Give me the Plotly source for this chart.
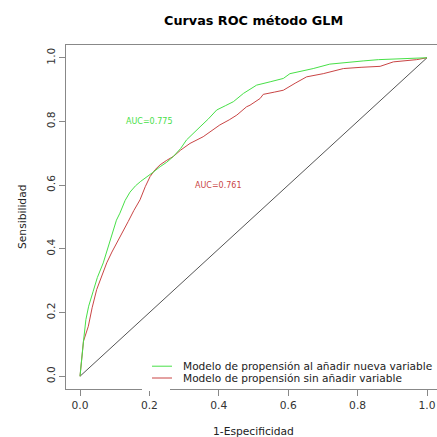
import plotly.graph_objects as go

# ---- data ----
fpr_new = [0, 0.005, 0.01, 0.017, 0.025, 0.038, 0.05, 0.067, 0.078, 0.086, 0.096, 0.105, 0.115,
           0.13, 0.144, 0.16, 0.175, 0.192, 0.21, 0.231, 0.25, 0.269, 0.29, 0.307, 0.325,
           0.346, 0.37, 0.394, 0.42, 0.442, 0.471, 0.509, 0.55, 0.586, 0.605, 0.64, 0.672,
           0.72, 0.77, 0.816, 0.86, 0.913, 0.96, 1.0]
tpr_new = [0, 0.06, 0.11, 0.178, 0.22, 0.267, 0.31, 0.356, 0.395, 0.429, 0.46, 0.49, 0.512,
           0.552, 0.578, 0.598, 0.612, 0.627, 0.64, 0.658, 0.672, 0.69, 0.715, 0.742, 0.762,
           0.783, 0.808, 0.836, 0.85, 0.862, 0.888, 0.914, 0.925, 0.935, 0.95, 0.958, 0.966,
           0.98, 0.986, 0.99, 0.994, 0.997, 0.999, 1.0]

fpr_old = [0, 0.005, 0.01, 0.024, 0.035, 0.048, 0.062, 0.077, 0.092, 0.11, 0.125, 0.139, 0.155,
           0.173, 0.188, 0.202, 0.216, 0.231, 0.25, 0.269, 0.29, 0.317, 0.355, 0.38, 0.403,
           0.43, 0.452, 0.48, 0.49, 0.519, 0.528, 0.56, 0.586, 0.62, 0.653, 0.701, 0.759,
           0.81, 0.865, 0.903, 0.97, 1.0]
tpr_old = [0, 0.06, 0.11, 0.157, 0.215, 0.272, 0.315, 0.356, 0.39, 0.425, 0.455, 0.486, 0.52,
           0.554, 0.595, 0.627, 0.648, 0.664, 0.678, 0.69, 0.71, 0.731, 0.752, 0.77, 0.789,
           0.805, 0.82, 0.846, 0.851, 0.872, 0.885, 0.892, 0.898, 0.92, 0.94, 0.95, 0.966,
           0.97, 0.973, 0.987, 0.994, 1.0]

diag_x = [0, 1]
diag_y = [0, 1]

series_names = ["Modelo de propensión al añadir nueva variable",
                "Modelo de propensión sin añadir variable"]
auc_labels = ["AUC=0.775", "AUC=0.761"]
auc_pos = [(0.2, 0.8), (0.4, 0.6)]
tick_vals = [0, 0.2, 0.4, 0.6, 0.8, 1.0]
tick_text = ["0.0", "0.2", "0.4", "0.6", "0.8", "1.0"]

GREEN = "#47e047"
RED = "#c94545"
FONT = "DejaVu Sans"

# ---- layout geometry (pixels) ----
W = H = 437
L, R, T, B = 66, 0, 45, 48
PW, PH = W - L - R, H - T - B


def px(xp):
    return (xp - L) / PW


def py(yp):
    return (H - B - yp) / PH


fig = go.Figure()
fig.add_trace(go.Scatter(x=diag_x, y=diag_y, mode="lines",
                         line=dict(color="#555555", width=1), showlegend=False, hoverinfo="skip"))
fig.add_trace(go.Scatter(x=fpr_old, y=tpr_old, mode="lines", name=series_names[1],
                         line=dict(color=RED, width=1), showlegend=False))
fig.add_trace(go.Scatter(x=fpr_new, y=tpr_new, mode="lines", name=series_names[0],
                         line=dict(color=GREEN, width=1), showlegend=False))

annotations = [
    dict(text="<b>Curvas ROC método GLM</b>", x=px(253.5), y=py(20.5), xref="paper", yref="paper",
         xanchor="center", yanchor="middle", showarrow=False,
         font=dict(family=FONT, size=12.8, color="#000000")),
    dict(text="1-Especificidad", x=px(253.5), y=py(431), xref="paper", yref="paper",
         xanchor="center", yanchor="middle", showarrow=False,
         font=dict(family=FONT, size=10.7, color="#222222")),
    dict(text="Sensibilidad", x=px(22), y=py(217), xref="paper", yref="paper",
         xanchor="center", yanchor="middle", showarrow=False, textangle=-90,
         font=dict(family=FONT, size=10.7, color="#222222")),
]
for (ax, ay), lab, col in zip(auc_pos, auc_labels, [GREEN, RED]):
    annotations.append(dict(text=lab, x=ax, y=ay, xref="x", yref="y", showarrow=False,
                            xanchor="center", yanchor="middle",
                            font=dict(family=FONT, size=8, color=col)))

shapes = [
    # gap in the bottom frame where the legend background sits
    dict(type="rect", xref="paper", yref="paper", x0=px(142), x1=px(170), y0=py(386), y1=py(391),
         fillcolor="white", line=dict(width=0), layer="above"),
]
leg_y = [366.2, 378.0]
for name, col, yy in zip(series_names, [GREEN, RED], leg_y):
    shapes.append(dict(type="line", xref="paper", yref="paper", x0=px(152), x1=px(172),
                       y0=py(yy), y1=py(yy), line=dict(color=col, width=1), layer="above"))
    annotations.append(dict(text=name, x=px(181), y=py(yy), xref="paper", yref="paper",
                            xanchor="left", yanchor="middle", showarrow=False,
                            font=dict(family=FONT, size=10.6, color="#222222")))

axis_common = dict(showgrid=False, zeroline=False, showline=True, linecolor="#888888", linewidth=1,
                   ticks="outside", ticklen=6, tickcolor="#888888", tickwidth=1,
                   tickvals=tick_vals, ticktext=tick_text,
                   tickfont=dict(family=FONT, size=10.7, color="#333333"))

fig.update_layout(
    width=W, height=H, margin=dict(l=L, r=R, t=T, b=B, pad=0),
    paper_bgcolor="white", plot_bgcolor="white",
    xaxis=dict(range=[-14 / 347, (W - 80) / 347], mirror=True, **axis_common),
    yaxis=dict(range=[-0.04, 1.04], tickangle=-90, **axis_common),
    annotations=annotations, shapes=shapes, showlegend=False,
)

fig.write_html("out.html")
